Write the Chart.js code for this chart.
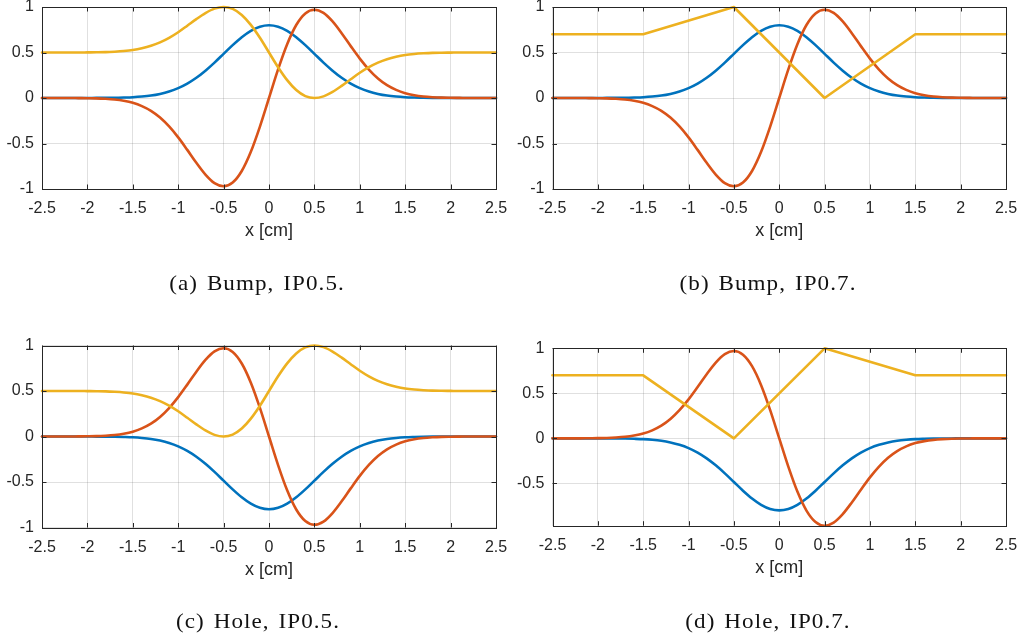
<!DOCTYPE html>
<html>
<head>
<meta charset="utf-8">
<script src="https://cdn.jsdelivr.net/npm/chart.js@4/dist/chart.umd.min.js"></script>
<style>
  html, body { margin: 0; padding: 0; background: #ffffff; }
  body { width: 1026px; height: 636px; position: relative; overflow: hidden; }
  canvas { position: absolute; }
  .cap {
    position: absolute;
    font-family: "Liberation Serif", "Times New Roman", serif;
    font-size: 22px;
    letter-spacing: 1px;
    word-spacing: 2px;
    color: #111111;
    white-space: nowrap;
    transform: translate(-50%, -50%) scaleX(1.05);
  }
</style>
</head>
<body>
<canvas id="pa"></canvas>
<canvas id="pb"></canvas>
<canvas id="pc"></canvas>
<canvas id="pd"></canvas>
<div class="cap" style="left:257px; top:283px;">(a) Bump, IP0.5.</div>
<div class="cap" style="left:768px; top:283px;">(b) Bump, IP0.7.</div>
<div class="cap" style="left:258px; top:621px;">(c) Hole, IP0.5.</div>
<div class="cap" style="left:768px; top:621px;">(d) Hole, IP0.7.</div>
<script>
// Sample positions along x [cm]
const xs = [-2.5,-2.4,-2.3,-2.2,-2.1,-2.0,-1.9,-1.8,-1.7,-1.6,-1.5,-1.4,-1.3,-1.2,-1.1,-1.0,-0.9,-0.8,-0.7,-0.6,-0.5,-0.4,-0.3,-0.2,-0.1,
            0,
            0.1,0.2,0.3,0.4,0.5,0.6,0.7,0.8,0.9,1.0,1.1,1.2,1.3,1.4,1.5,1.6,1.7,1.8,1.9,2.0,2.1,2.2,2.3,2.4,2.5];

// Bump profile (blue), its slope curve (red) and the smooth weight (yellow)
const bumpBlue = [0,0,0,0,0,0,0.001,0.001,0.002,0.005,0.009,0.016,0.027,0.045,0.071,0.108,0.158,0.222,0.300,0.389,0.485,0.581,0.668,0.738,0.784,
                  0.800,
                  0.784,0.738,0.668,0.581,0.485,0.389,0.300,0.222,0.158,0.108,0.071,0.045,0.027,0.016,0.009,0.005,0.002,0.001,0.001,0,0,0,0,0,0];
const bumpRed = [0,0,0,0,-0.001,-0.002,-0.004,-0.009,-0.017,-0.031,-0.053,-0.089,-0.141,-0.215,-0.313,-0.433,-0.570,-0.712,-0.841,-0.935,-0.970,-0.929,-0.802,-0.591,-0.314,
                 0,
                 0.314,0.591,0.802,0.929,0.970,0.935,0.841,0.712,0.570,0.433,0.313,0.215,0.141,0.089,0.053,0.031,0.017,0.009,0.004,0.002,0.001,0,0,0,0];
const bumpYellow = [0.5,0.5,0.5,0.5,0.5,0.501,0.502,0.504,0.509,0.516,0.527,0.546,0.573,0.611,0.661,0.723,0.794,0.867,0.933,0.982,1.000,0.979,0.913,0.804,0.662,
                    0.5,
                    0.338,0.196,0.087,0.021,0.000,0.018,0.067,0.133,0.206,0.277,0.339,0.389,0.427,0.454,0.473,0.484,0.491,0.496,0.498,0.499,0.5,0.5,0.5,0.5,0.5];

// Hole profile (blue), slope curve (red) and smooth weight (yellow)
const holeBlue = [0,0,0,0,0,0,-0.001,-0.001,-0.002,-0.005,-0.009,-0.016,-0.027,-0.045,-0.071,-0.108,-0.158,-0.222,-0.300,-0.389,-0.485,-0.581,-0.668,-0.738,-0.784,
                  -0.800,
                  -0.784,-0.738,-0.668,-0.581,-0.485,-0.389,-0.300,-0.222,-0.158,-0.108,-0.071,-0.045,-0.027,-0.016,-0.009,-0.005,-0.002,-0.001,-0.001,0,0,0,0,0,0];
const holeRed = [0,0,0,0,0.001,0.002,0.004,0.009,0.017,0.031,0.053,0.089,0.141,0.215,0.313,0.433,0.570,0.712,0.841,0.935,0.970,0.929,0.802,0.591,0.314,
                 0,
                 -0.314,-0.591,-0.802,-0.929,-0.970,-0.935,-0.841,-0.712,-0.570,-0.433,-0.313,-0.215,-0.141,-0.089,-0.053,-0.031,-0.017,-0.009,-0.004,-0.002,-0.001,0,0,0,0];
const holeYellow = [0.5,0.5,0.5,0.5,0.5,0.499,0.498,0.496,0.491,0.484,0.473,0.454,0.427,0.389,0.339,0.277,0.206,0.133,0.067,0.018,0.000,0.021,0.087,0.196,0.338,
                    0.5,
                    0.662,0.804,0.913,0.979,1.000,0.982,0.933,0.867,0.794,0.723,0.661,0.611,0.573,0.546,0.527,0.516,0.509,0.504,0.502,0.501,0.5,0.5,0.5,0.5,0.5];

// Piecewise-linear weights (IP0.7): breakpoints and values
const knotX = [-2.5, -1.5, -0.5, 0.5, 1.5, 2.5];
const bumpKnotY = [0.7, 0.7, 1.0, 0.0, 0.7, 0.7];
const holeKnotY = [0.7, 0.7, 0.0, 1.0, 0.7, 0.7];

// Axis ticks
const xTicks = [-2.5, -2, -1.5, -1, -0.5, 0, 0.5, 1, 1.5, 2, 2.5];
const xTickLabels = ['-2.5', '-2', '-1.5', '-1', '-0.5', '0', '0.5', '1', '1.5', '2', '2.5'];
const yTicksFull = [-1, -0.5, 0, 0.5, 1];
const yTickLabelsFull = ['-1', '-0.5', '0', '0.5', '1'];
const yTicksTrim = [-0.5, 0, 0.5, 1];
const yTickLabelsTrim = ['-0.5', '0', '0.5', '1'];

// ---- styling ----
const BLUE = '#0072BD', RED = '#D95319', YELLOW = '#EDB120';
const INK = '#262626';
const GRID = 'rgba(38,38,38,0.14)';
const SANS = '"Liberation Sans", Arial, Helvetica, sans-serif';
const PANEL_W = 513, PANEL_H = 318;
const Y_AXIS_W = 38, X_AXIS_H = 53, TICK_LEN = 4.5;

function pts(xv, yv) { return xv.map((x, i) => ({ x: x, y: yv[i] })); }

// Box outline plus inward tick marks on all four sides
const framePlugin = {
  id: 'frame',
  afterDraw(chart) {
    const { ctx, chartArea: a, scales } = chart;
    const x = scales.x, y = scales.y;
    ctx.save();
    ctx.strokeStyle = INK;
    ctx.lineWidth = 1;
    ctx.beginPath();
    x.ticks.forEach(t => {
      const px = Math.round(x.getPixelForValue(t.value)) + 0.5;
      ctx.moveTo(px, a.bottom); ctx.lineTo(px, a.bottom - TICK_LEN);
      ctx.moveTo(px, a.top); ctx.lineTo(px, a.top + TICK_LEN);
    });
    y.ticks.forEach(t => {
      const py = Math.round(y.getPixelForValue(t.value)) + 0.5;
      ctx.moveTo(a.left, py); ctx.lineTo(a.left + TICK_LEN, py);
      ctx.moveTo(a.right, py); ctx.lineTo(a.right - TICK_LEN, py);
    });
    ctx.stroke();
    const l = Math.round(a.left) + 0.5, t = Math.round(a.top) + 0.5;
    const r = Math.round(a.right) + 0.5, b = Math.round(a.bottom) + 0.5;
    ctx.strokeRect(l, t, r - l, b - t);
    ctx.restore();
  }
};

const panels = [
  { id: 'pa', left: 0,   top: 0,   area: { l: 42,    t: 7,     r: 496,  b: 189 },
    blue: bumpBlue, red: bumpRed, yx: xs, yy: bumpYellow, smoothYellow: true,
    yMin: -1, yTicks: yTicksFull, yLabels: yTickLabelsFull },
  { id: 'pb', left: 513, top: 0,   area: { l: 552.5, t: 7,     r: 1006, b: 189 },
    blue: bumpBlue, red: bumpRed, yx: knotX, yy: bumpKnotY, smoothYellow: false,
    yMin: -1, yTicks: yTicksFull, yLabels: yTickLabelsFull },
  { id: 'pc', left: 0,   top: 318, area: { l: 42,    t: 345.5, r: 496,  b: 527.5 },
    blue: holeBlue, red: holeRed, yx: xs, yy: holeYellow, smoothYellow: true,
    yMin: -1, yTicks: yTicksFull, yLabels: yTickLabelsFull },
  { id: 'pd', left: 513, top: 318, area: { l: 552.5, t: 348.3, r: 1006, b: 525.7 },
    blue: holeBlue, red: holeRed, yx: knotX, yy: holeKnotY, smoothYellow: false,
    yMin: -0.97, yTicks: yTicksTrim, yLabels: yTickLabelsTrim }
];

function makeChart(p) {
  const canvas = document.getElementById(p.id);
  canvas.width = PANEL_W;
  canvas.height = PANEL_H;
  canvas.style.left = p.left + 'px';
  canvas.style.top = p.top + 'px';
  canvas.style.width = PANEL_W + 'px';
  canvas.style.height = PANEL_H + 'px';

  const padding = {
    left: p.area.l - p.left - Y_AXIS_W,
    top: p.area.t - p.top,
    right: p.left + PANEL_W - p.area.r,
    bottom: p.top + PANEL_H - (p.area.b + X_AXIS_H)
  };

  const lineBase = { pointRadius: 0, borderWidth: 2.6, fill: false, clip: 4,
                     borderCapStyle: 'round', borderJoinStyle: 'round' };

  new Chart(canvas, {
    type: 'line',
    data: {
      datasets: [
        Object.assign({ data: pts(xs, p.blue), borderColor: BLUE, order: 3,
                        cubicInterpolationMode: 'monotone' }, lineBase),
        Object.assign({ data: pts(xs, p.red), borderColor: RED, order: 2,
                        cubicInterpolationMode: 'monotone' }, lineBase),
        Object.assign({ data: pts(p.yx, p.yy), borderColor: YELLOW, order: 1 },
                      p.smoothYellow ? { cubicInterpolationMode: 'monotone' } : { tension: 0 },
                      lineBase)
      ]
    },
    options: {
      responsive: false,
      animation: false,
      devicePixelRatio: 1,
      events: [],
      layout: { padding: padding },
      plugins: { legend: { display: false }, tooltip: { enabled: false } },
      scales: {
        x: {
          type: 'linear', min: -2.5, max: 2.5,
          afterBuildTicks: s => { s.ticks = xTicks.map(v => ({ value: v })); },
          afterFit: s => { s.height = X_AXIS_H; s.paddingLeft = 0; s.paddingRight = 0; },
          ticks: { callback: (v, i) => xTickLabels[i], autoSkip: false, maxRotation: 0,
                   padding: 10, color: INK, font: { family: SANS, size: 16 } },
          grid: { color: GRID, lineWidth: 1, drawTicks: false },
          border: { display: false },
          title: { display: true, text: 'x [cm]', color: INK, padding: 0,
                   font: { family: SANS, size: 18 } }
        },
        y: {
          type: 'linear', min: p.yMin, max: 1,
          afterBuildTicks: s => { s.ticks = p.yTicks.map(v => ({ value: v })); },
          afterFit: s => { s.width = Y_AXIS_W; s.paddingTop = 0; s.paddingBottom = 0; },
          ticks: { callback: (v, i) => p.yLabels[i], autoSkip: false,
                   padding: 8, color: INK, font: { family: SANS, size: 16 } },
          grid: { color: GRID, lineWidth: 1, drawTicks: false },
          border: { display: false }
        }
      }
    },
    plugins: [framePlugin]
  });
}

panels.forEach(makeChart);
</script>
</body>
</html>
